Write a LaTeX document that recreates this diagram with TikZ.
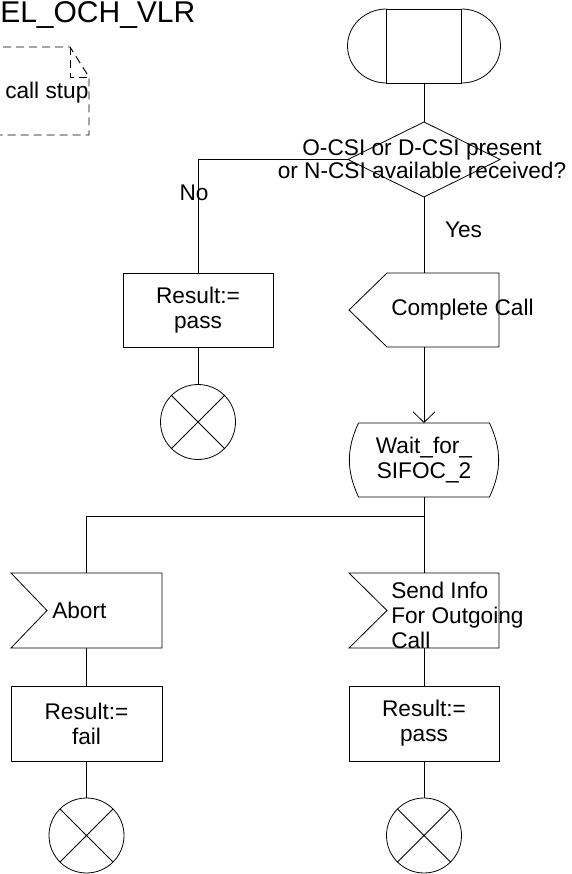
\documentclass[tikz,border=0pt]{standalone}
\usepackage{fontspec}
\setmainfont{Liberation Sans}
\usepackage{tikz}
\usetikzlibrary{shapes.geometric, arrows.meta, positioning, calc}
\tikzset{
    sdlbox/.style={rectangle, draw=black, line width=0.6pt, align=center,
                   inner sep=0pt, outer sep=0pt, minimum width=112.5pt,
                   minimum height=55.5pt},
    outline/.style={rectangle, inner sep=0pt, outer sep=0pt, align=center,
                    minimum width=112.5pt, minimum height=55.5pt},
    decision/.style={diamond, draw=black, line width=0.6pt, inner sep=0pt,
                     outer sep=0pt, minimum width=114pt, minimum height=56.25pt},
    stopnode/.style={circle, draw=black, line width=0.6pt, inner sep=0pt,
                     outer sep=0pt, minimum size=56.25pt,
                     path picture={\draw[line width=0.6pt]
                        (path picture bounding box.north west) -- (path picture bounding box.south east)
                        (path picture bounding box.south west) -- (path picture bounding box.north east);}},
    flow/.style={draw=black, line width=0.6pt},
    arrow/.style={flow, -{Straight Barb[length=8pt, width=16.5pt]}},
    txt/.style={inner sep=0pt, align=left},
    edgelbl/.style={inner sep=0pt},
    notebox/.style={flow, line width=0.7pt, dash pattern=on 6pt off 3.75pt},
}
\begin{document}
\begin{tikzpicture}[x=0.75pt, y=-0.75pt, font=\fontsize{17}{18.75}\selectfont]
        \useasboundingbox (0,0) rectangle (571,874);
        \clip (0,0) rectangle (571,874);
        \node[txt, anchor=base west, font=\fontsize{22.5}{27}\selectfont] (title) at (0,22.5) {EL\_OCH\_VLR};
        \node[txt, anchor=west] (note) at (5,93) {call stup};
        \draw[notebox] (-10,47) -- (70,47) -- (89,77) -- (89,135) -- (-10,135);
        \draw[notebox] (70,47) -- (70,77) -- (89,77);
        \node[sdlbox, minimum width=56.25pt] (start) at (424,46) {};
        \draw[flow] (start.north west) arc[start angle=90, end angle=270, x radius=29.25pt, y radius=27.75pt];
        \draw[flow] (start.north east) arc[start angle=90, end angle=-90, x radius=29.25pt, y radius=27.75pt];
        \node[decision] (dec) at (424,159.5) {};
        \node[edgelbl, align=center, font=\fontsize{17}{17.5}\selectfont] (dectext) at (422,159) {O-CSI or D-CSI present\\or N-CSI available received?};
        \node[sdlbox] (res1) at (198,310) {Result:=\\pass};
        \node[stopnode] (stop1) at (198,422) {};
        \node[outline] (cc) at (424,310) {};
        \draw[flow] ($(cc.north west)+(38,0)$) -- (cc.north east) -- (cc.south east) -- ($(cc.south west)+(38,0)$) -- (cc.west) -- cycle;
        \node[txt, anchor=west] (cctext) at ($(cc.west)+(42,0)$) {Complete Call};
        \node[outline, minimum width=98.25pt] (wait) at (424,460) {Wait\_for\_\\SIFOC\_2};
        \draw[flow] (wait.north west) -- (wait.north east) to[bend left=25] (wait.south east) -- (wait.south west) to[bend left=25] (wait.north west);
        \coordinate (fork) at (424,516);
        \node[outline, minimum width=113.25pt, minimum height=56.25pt] (abort) at (86.5,610.5) {};
        \draw[flow] (abort.north west) -- (abort.north east) -- (abort.south east) -- (abort.south west) -- ($(abort.west)+(36,0)$) -- cycle;
        \node[txt, anchor=west] (aborttext) at ($(abort.west)+(41,0)$) {Abort};
        \node[outline, minimum height=56.25pt] (send) at (424,610.5) {};
        \draw[flow] (send.north west) -- (send.north east) -- (send.south east) -- (send.south west) -- ($(send.west)+(38,0)$) -- cycle;
        \node[txt, anchor=west] (sendtext) at ($(send.west)+(42,5)$) {Send Info\\For Outgoing\\Call};
        \node[sdlbox, minimum width=113.25pt, minimum height=56.25pt] (res2) at (86.5,723.5) {Result:=\\fail};
        \node[sdlbox, minimum height=56.25pt] (res3) at (424,723.5) {Result:=\\pass};
        \node[stopnode] (stop2) at (86.5,835.5) {};
        \node[stopnode] (stop3) at (424,835.5) {};
        \draw[flow] (start.south) -- (dec.north);
        \draw[flow] (dec.west) -| node[edgelbl, pos=0.645, xshift=-3pt] {No} (res1.north);
        \draw[flow] (dec.south) -- node[edgelbl, pos=0.43, anchor=west, xshift=15.5pt] {Yes} (cc.north);
        \draw[flow] (res1.south) -- (stop1.north);
        \draw[arrow] (cc.south) -- (wait.north);
        \draw[flow] (wait.south) -- (send.north);
        \draw[flow] (fork) -| (abort.north);
        \draw[flow] (abort.south) -- (res2.north);
        \draw[flow] (send.south) -- (res3.north);
        \draw[flow] (res2.south) -- (stop2.north);
        \draw[flow] (res3.south) -- (stop3.north);
    \end{tikzpicture}
\end{document}
